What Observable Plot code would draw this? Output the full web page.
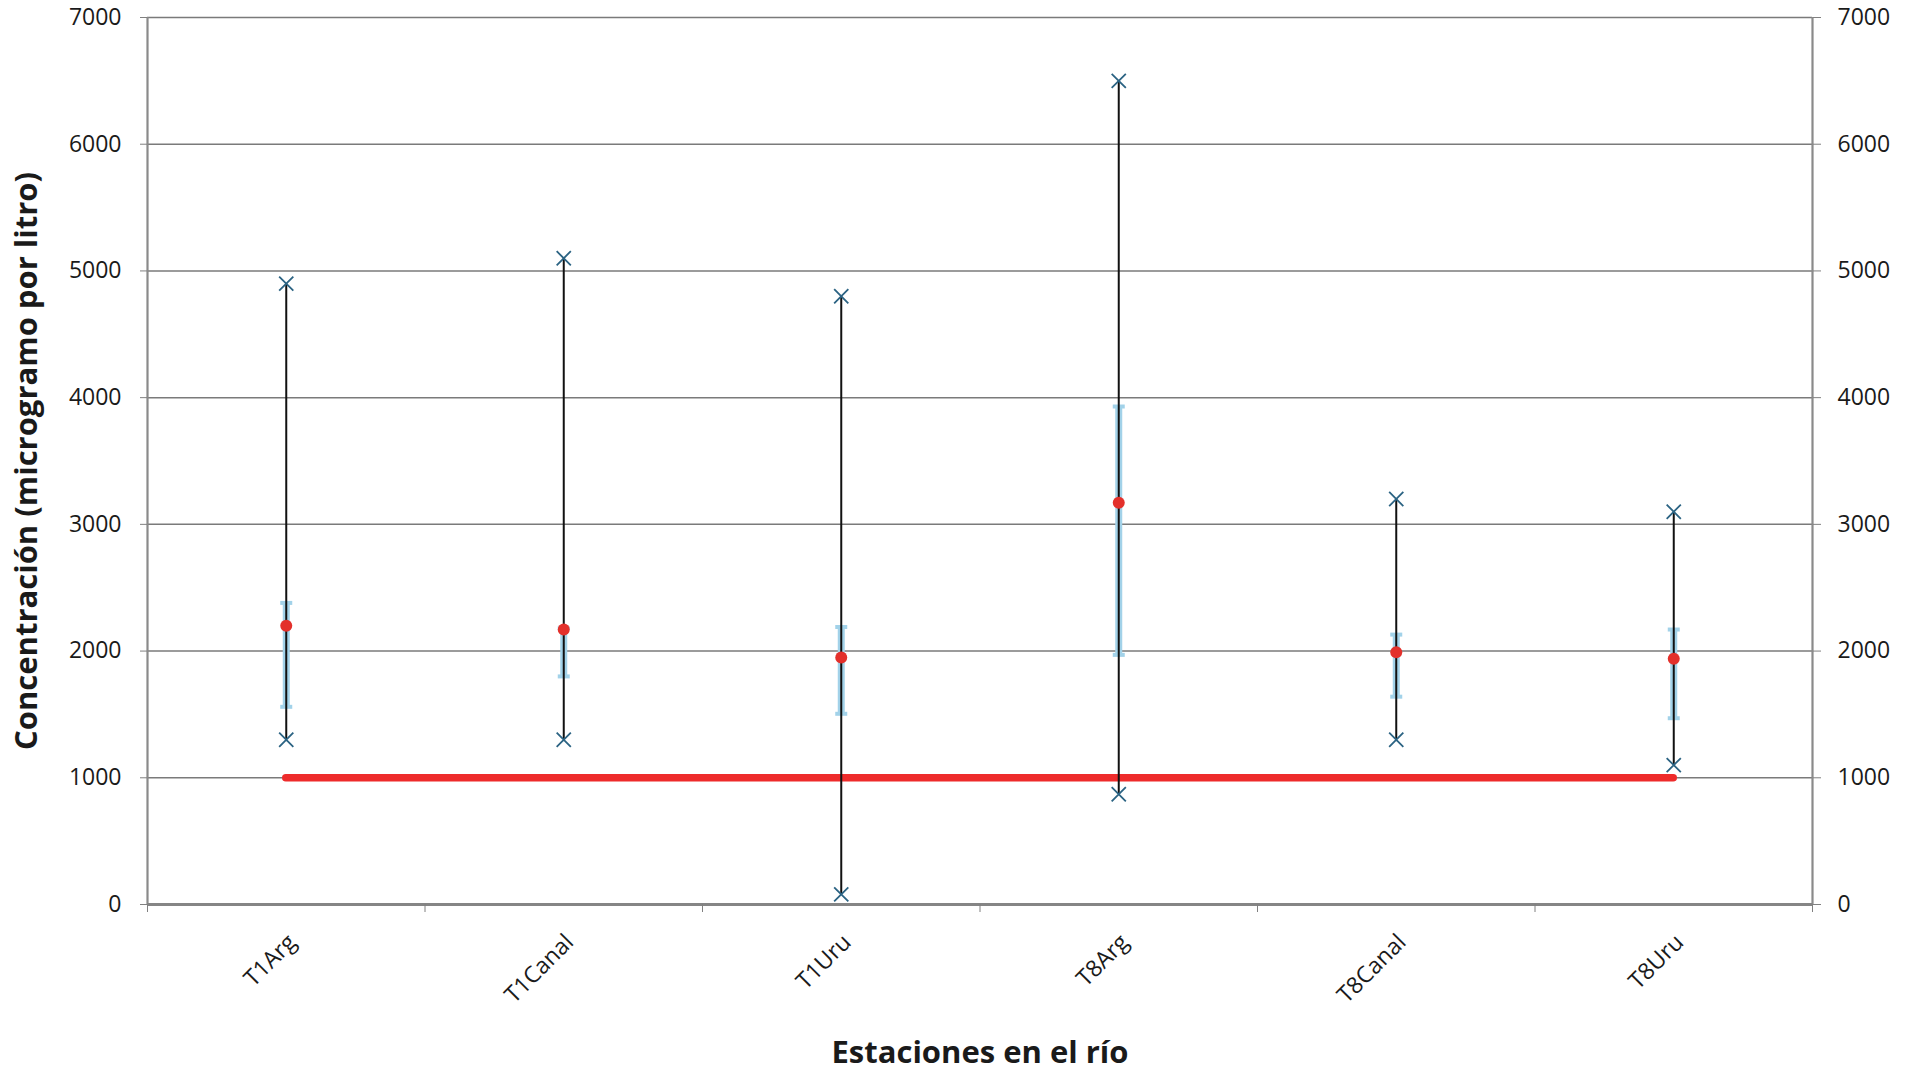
<!DOCTYPE html>
<html>
<head>
<meta charset="utf-8">
<script src="https://cdn.jsdelivr.net/npm/d3@7"></script>
<script src="https://cdn.jsdelivr.net/npm/@observablehq/plot@0.6"></script>
<style>
  html, body { margin: 0; padding: 0; background: #fff; }
  svg { display: block; }
</style>
</head>
<body>
<div id="chart"></div>
<script>
// ---- Data ----
const stations   = ["T1Arg", "T1Canal", "T1Uru", "T8Arg", "T8Canal", "T8Uru"];
const maxValues  = [4900, 5100, 4800, 6500, 3200, 3100];
const minValues  = [1300, 1300, 80, 870, 1300, 1100];
const meanValues = [2200, 2170, 1950, 3170, 1990, 1940];
const bandHigh   = [2380, 2180, 2190, 3930, 2130, 2170];
const bandLow    = [1560, 1800, 1505, 1970, 1640, 1470];
const limitValue = 1000;
const yTicks     = [0, 1000, 2000, 3000, 4000, 5000, 6000, 7000];
const yTitle = "Concentración (microgramo por litro)";
const xTitle = "Estaciones en el río";

// ---- Derived table ----
const data = stations.map((s, i) => ({
  i, station: s,
  max: maxValues[i], min: minValues[i], mean: meanValues[i],
  high: bandHigh[i], low: bandLow[i]
}));
const extremes = data.flatMap(d => [{i: d.i, v: d.max}, {i: d.i, v: d.min}]);
const xDomain = [-0.5, stations.length - 0.5];
const xBoundaries = d3.range(stations.length + 1).map(k => k - 0.5);
const xCenters = stations.map((s, i) => i);

const capSymbol = {
  draw(context, size) {
    const w = Math.sqrt(size / Math.PI);
    context.moveTo(-w, 0);
    context.lineTo(w, 0);
  }
};

const font = "'Open Sans', 'Liberation Sans', sans-serif";

const chart = Plot.plot({
  width: 1913,
  height: 1076,
  marginLeft: 147,
  marginRight: 101,
  marginTop: 17,
  marginBottom: 172,
  x: {type: "linear", domain: xDomain, axis: null},
  y: {type: "linear", domain: [0, 7000], axis: null},
  style: {fontFamily: font, fontSize: "23px", color: "#1a1a1a", background: "#fff"},
  marks: [
    // gridlines
    Plot.ruleY(yTicks.filter(d => d > 0), {stroke: "#7a7a7a", strokeWidth: 1.5}),
    // side axis lines
    Plot.ruleX(xDomain, {stroke: "#8a8a8a", strokeWidth: 2.2}),
    // baseline
    Plot.ruleY([0], {stroke: "#858585", strokeWidth: 3}),
    // y axes
    Plot.axisY(yTicks, {anchor: "left", tickSize: 7, tickPadding: 19, stroke: "#808080",
      tickFormat: d3.format("d"), label: null, fontSize: 23}),
    Plot.axisY(yTicks, {anchor: "right", tickSize: 8, tickPadding: 17, stroke: "#808080",
      tickFormat: d3.format("d"), label: null, fontSize: 23}),
    // x boundary ticks
    Plot.axisX(xBoundaries, {anchor: "bottom", tickSize: 8, stroke: "#808080",
      tickFormat: () => "", label: null}),
    // x labels
    Plot.axisX(xCenters, {anchor: "bottom", tickSize: 0, tickPadding: 34, tickRotate: -45,
      tickFormat: i => stations[i], label: null, fontSize: 23, dx: 6}),
    // limit line
    Plot.ruleY([limitValue], {x1: () => 0, x2: () => stations.length - 1,
      stroke: "#ee2b2b", strokeWidth: 7.5, strokeLinecap: "round"}),
    // light blue bands
    Plot.ruleX(data, {x: "i", y1: "low", y2: "high", stroke: "#a2d2e9", strokeWidth: 7}),
    Plot.dot(data, {x: "i", y: "high", symbol: capSymbol, r: 6, stroke: "#a2d2e9", strokeWidth: 4}),
    Plot.dot(data, {x: "i", y: "low", symbol: capSymbol, r: 6, stroke: "#a2d2e9", strokeWidth: 4}),
    // range lines
    Plot.ruleX(data, {x: "i", y1: "min", y2: "max", stroke: "#111", strokeWidth: 2}),
    // means
    Plot.dot(data, {x: "i", y: "mean", r: 6, fill: "#e3302b", stroke: "none"}),
    // extremes
    Plot.dot(extremes, {x: "i", y: "v", symbol: "times", r: 6.5, stroke: "#2b6383", strokeWidth: 1.8}),
    // titles
    Plot.text([yTitle], {frameAnchor: "left", dx: -120, rotate: -90, textAnchor: "middle",
      fontWeight: "bold", fontSize: 31, fill: "#1a1a1a"}),
    Plot.text([xTitle], {frameAnchor: "bottom", dy: 158, textAnchor: "middle",
      fontWeight: "bold", fontSize: 31, fill: "#1a1a1a"})
  ]
});
document.getElementById("chart").append(chart);
</script>
</body>
</html>
